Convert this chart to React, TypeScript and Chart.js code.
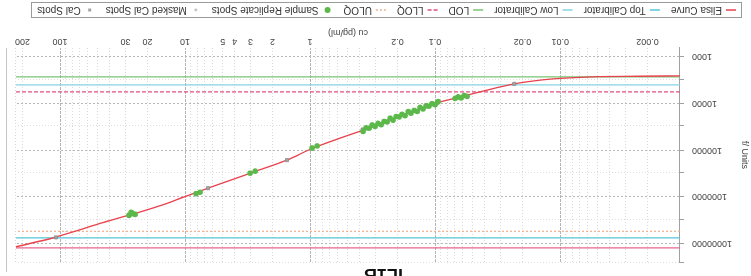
import React, { useEffect, useRef } from "react";
import { Chart, registerables } from "chart.js";

Chart.register(...registerables);

// ---- data ----
const X_MIN = 0.0011;
const X_MAX = 225;
const Y_MIN = 650;
const Y_MAX = 25000000;

const X_TICK_LABELS = [0.002, 0.01, 0.02, 0.1, 0.2, 1, 2, 3, 4, 5, 10, 20, 30, 100, 200];
const Y_TICK_LABELS = [1000, 10000, 100000, 1000000, 10000000];

const CURVE_CONC = [0.0011, 0.0023, 0.0055, 0.0114, 0.0233, 0.0437, 0.063, 0.096, 0.18, 0.377, 0.946, 1.53, 2.86, 6.55, 10.4, 13.9, 26.5, 47.9, 110, 225];
const CURVE_SIGNAL = [2570, 2620, 2690, 2970, 3810, 5660, 7250, 9750, 17700, 37200, 90600, 164000, 297000, 656000, 1030000, 1380000, 2380000, 3720000, 7430000, 11800000];

const SAMPLE_CONC = [28.1, 26.5, 25.1, 27.0, 8.17, 7.59, 3.02, 2.75, 0.964, 0.879,
  0.377, 0.357, 0.337, 0.319, 0.302, 0.286, 0.270, 0.256, 0.242, 0.229, 0.217, 0.205, 0.194,
  0.184, 0.174, 0.164, 0.156, 0.147, 0.139, 0.132, 0.125, 0.118, 0.112, 0.106, 0.100, 0.0946,
  0.0692, 0.0655, 0.0619, 0.0586, 0.0555];
const SAMPLE_SIGNAL = [2500000, 2260000, 2380000, 2150000, 861000, 800000, 313000, 283000, 90600, 82000,
  40000, 33500, 34150, 29140, 31230, 26790, 28710, 24500, 25000, 20900, 22980, 19130, 19500,
  17150, 18400, 15000, 16180, 14210, 14940, 12190, 13130, 11270, 11480, 10150, 10610, 9150,
  7810, 7250, 7620, 6730, 7070];

const CAL_CONC = [108, 26.5, 6.55, 1.53, 0.38, 0.0964, 0.0233];
const CAL_SIGNAL = [7430000, 2380000, 656000, 164000, 36200, 9750, 3810];

const TOP_CALIBRATOR = 7600000;
const LOW_CALIBRATOR = 4000;
const LOD = 2690;
const LLOQ = 5660;
const ULOQ = 5500000;
const UPPER_LINE = 12500000;

// ---- helpers ----
const FONT = "'Liberation Sans', Arial, sans-serif";
const num = (m: number, e: number) => parseFloat(m + "e" + e);
const X_GRID: number[] = [];
for (let e = -3; e <= 2; e++) for (let m = 1; m <= 9; m++) {
  const v = num(m, e);
  if (v >= X_MIN && v <= X_MAX) X_GRID.push(v);
}
X_GRID.push(X_MAX);
const Y_GRID: number[] = [];
for (let e = 2; e <= 7; e++) for (const m of [1, 3]) {
  const v = num(m, e);
  if (v >= Y_MIN && v <= Y_MAX) Y_GRID.push(v);
}
Y_GRID.push(Y_MAX);

const isDecade = (v: number) => Math.abs(Math.log10(v) - Math.round(Math.log10(v))) < 1e-9;
const hasLabel = (v: number, list: number[]) => list.some((l) => Math.abs(l - v) / l < 1e-9);

const pts = (xs: number[], ys: number[]) => xs.map((x, i) => ({ x, y: ys[i] }));
const hline = (v: number) => [{ x: X_MIN, y: v }, { x: X_MAX, y: v }];

const legendPlugin = {
  id: "boxLegend",
  afterDraw(chart: any) {
    const ctx = chart.ctx;
    ctx.save();
    // frame line at right
    ctx.strokeStyle = "#c4c4c4";
    ctx.lineWidth = 1;
    ctx.beginPath();
    ctx.moveTo(744.5, 13);
    ctx.lineTo(744.5, 237);
    ctx.stroke();
    // legend box
    ctx.strokeStyle = "#9a9a9a";
    ctx.strokeRect(9.5, 267.5, 710, 15);
    ctx.font = "10px " + FONT;
    ctx.textBaseline = "middle";
    const cy = 275;
    let x = 15;
    chart.data.datasets.forEach((ds: any) => {
      if (!ds.label || ds.noLegend) return;
      if (ds.showLine) {
        ctx.strokeStyle = ds.borderColor;
        ctx.lineWidth = 1.5;
        ctx.setLineDash(ds.borderDash || []);
        ctx.beginPath();
        ctx.moveTo(x, cy);
        ctx.lineTo(x + 10, cy);
        ctx.stroke();
        ctx.setLineDash([]);
      } else {
        ctx.fillStyle = ds.backgroundColor;
        const r = ds.legendRadius;
        if (ds.pointStyle === "rect") {
          ctx.fillRect(x + 5 - r, cy - r, 2 * r, 2 * r);
        } else {
          ctx.beginPath();
          ctx.arc(x + 5, cy, r, 0, Math.PI * 2);
          ctx.fill();
        }
      }
      ctx.fillStyle = "#333";
      ctx.fillText(ds.label, x + 14, cy);
      x += 14 + ctx.measureText(ds.label).width + 11;
    });
    ctx.restore();
  },
};

export default function App() {
  const ref = useRef<HTMLCanvasElement>(null);
  useEffect(() => {
    if (!ref.current) return;
    const lineDs = (label: string, v: number, color: string, order: number, extra: any = {}) => ({
      label,
      data: hline(v),
      showLine: true,
      borderColor: color,
      backgroundColor: color,
      borderWidth: 1.2,
      pointRadius: 0,
      order,
      ...extra,
    });
    const chart = new Chart(ref.current, {
      type: "scatter",
      data: {
        datasets: [
          {
            label: "Elisa Curve",
            data: pts(CURVE_CONC, CURVE_SIGNAL),
            showLine: true,
            borderColor: "#e8424d",
            backgroundColor: "#e8424d",
            borderWidth: 1.3,
            pointRadius: 0,
            tension: 0.4,
            cubicInterpolationMode: "monotone",
            order: 3,
          } as any,
          lineDs("Top Calibrator", TOP_CALIBRATOR, "#55c6d9", 10),
          lineDs("Low Calibrator", LOW_CALIBRATOR, "#86d3e2", 10),
          lineDs("LOD", LOD, "#79c473", 10),
          lineDs("LLOQ", LLOQ, "#de4f83", 10, { borderDash: [4, 2] }),
          lineDs("ULOQ", ULOQ, "#efb08e", 10, { borderDash: [2, 2] }),
          {
            label: "Sample Replicate Spots",
            data: pts(SAMPLE_CONC, SAMPLE_SIGNAL),
            showLine: false,
            pointStyle: "circle",
            pointRadius: 2.8,
            backgroundColor: "#5cb84a",
            borderColor: "#5cb84a",
            borderWidth: 0,
            legendRadius: 3,
            order: 1,
          } as any,
          {
            label: "Masked Cal Spots",
            data: [],
            showLine: false,
            pointStyle: "circle",
            pointRadius: 2,
            backgroundColor: "#c4c4c4",
            borderColor: "#c4c4c4",
            legendRadius: 1.5,
            order: 2,
          } as any,
          {
            label: "Cal Spots",
            data: pts(CAL_CONC, CAL_SIGNAL),
            showLine: false,
            pointStyle: "rect",
            pointRadius: 2.2,
            backgroundColor: "#a3a3a3",
            borderColor: "#8a8a8a",
            borderWidth: 0.8,
            legendRadius: 1.5,
            order: 2,
          } as any,
          lineDs("", UPPER_LINE, "#e8678a", 10, { noLegend: true }),
        ],
      },
      options: {
        animation: false,
        responsive: false,
        layout: { padding: { left: 0, right: 16, top: 0, bottom: 27 } },
        plugins: {
          legend: { display: false },
          tooltip: { enabled: false },
          title: {
            display: true,
            text: "IL1B",
            color: "#111",
            font: { size: 18, weight: "bold", family: FONT },
            padding: { top: 0, bottom: 1.4 },
          },
        },
        scales: {
          x: {
            type: "logarithmic",
            min: X_MIN,
            max: X_MAX,
            afterBuildTicks: (s: any) => {
              s.ticks = X_GRID.map((v) => ({ value: v }));
            },
            afterFit: (s: any) => {
              s.height = 21;
            },
            ticks: {
              autoSkip: false,
              maxRotation: 0,
              minRotation: 0,
              padding: 1,
              color: "#444",
              font: { size: 9, family: FONT },
              major: { enabled: false },
              callback: (v: any) => (hasLabel(Number(v), X_TICK_LABELS) ? String(v) : ""),
            },
            grid: {
              drawTicks: false,
              lineWidth: 1,
              color: (c: any) => (c.tick && isDecade(c.tick.value) ? "#b4b4b4" : "#dadada"),
            },
            border: {
              display: false,
              dash: (c: any) => (c.tick && isDecade(c.tick.value) ? [3, 1] : [1, 2]),
            },
            title: {
              display: true,
              text: "cu (pg/ml)",
              color: "#444",
              font: { size: 9, family: FONT },
              padding: 0,
            },
          } as any,
          y: {
            type: "logarithmic",
            min: Y_MIN,
            max: Y_MAX,
            afterBuildTicks: (s: any) => {
              s.ticks = Y_GRID.map((v) => ({ value: v }));
            },
            afterFit: (s: any) => {
              s.width = 71;
            },
            ticks: {
              autoSkip: false,
              padding: 8,
              color: "#444",
              font: { size: 9, family: FONT },
              major: { enabled: false },
              callback: (v: any) => (hasLabel(Number(v), Y_TICK_LABELS) ? String(v) : ""),
            },
            grid: {
              drawTicks: true,
              tickLength: 4,
              tickColor: "#a0a0a0",
              lineWidth: 1,
              color: (c: any) => (c.tick && isDecade(c.tick.value) ? "#b8b8b8" : "#dedede"),
            },
            border: {
              display: true,
              color: "#a0a0a0",
              dash: (c: any) => (c.tick && isDecade(c.tick.value) ? [2, 2] : [1, 2]),
            },
            title: {
              display: true,
              text: "f/ Units",
              color: "#444",
              font: { size: 9, family: FONT },
              padding: { top: 1, bottom: 0 },
            },
          } as any,
        },
      },
      plugins: [legendPlugin],
    } as any);
    return () => chart.destroy();
  }, []);

  return (
    <div
      style={{
        position: "fixed",
        left: 0,
        top: 0,
        width: 751,
        height: 276,
        overflow: "hidden",
        background: "#fff",
        transform: "rotate(180deg)",
      }}
    >
      <div style={{ position: "absolute", left: 0, top: -9, width: 751, height: 285 }}>
        <canvas ref={ref} width={751} height={285} style={{ display: "block" }} />
      </div>
    </div>
  );
}
